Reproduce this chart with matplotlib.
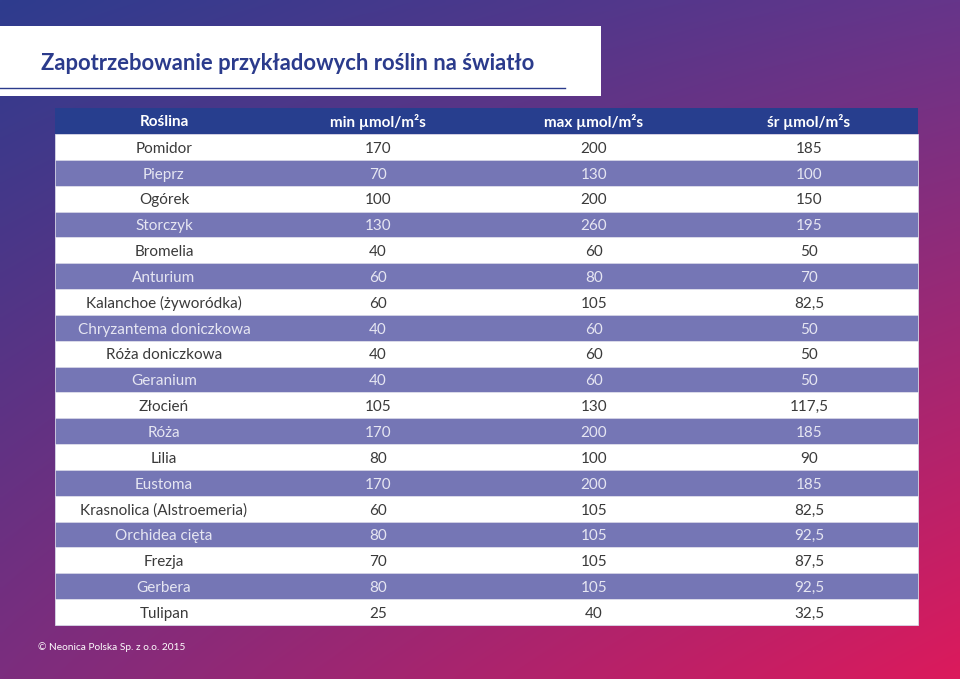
#! /usr/bin/env python3
#
# Table of light requirements for example plants, drawn on a gradient background.
#

import numpy as np
import matplotlib
matplotlib.use('agg')
import matplotlib.pyplot as plt
from matplotlib.patches import Rectangle
from matplotlib.colors import to_rgb

plt.rcParams['font.family'] = ['Lato', 'DejaVu Sans']

##########
## DATA ##
##########

title = "Zapotrzebowanie przykładowych roślin na światło"
footer = "© Neonica Polska Sp. z o.o. 2015"
header = ["Roślina", "min µmol/m²s", "max µmol/m²s", "śr µmol/m²s"]
plants = ["Pomidor", "Pieprz", "Ogórek", "Storczyk", "Bromelia", "Anturium",
          "Kalanchoe (żyworódka)", "Chryzantema doniczkowa", "Róża doniczkowa",
          "Geranium", "Złocień", "Róża", "Lilia", "Eustoma",
          "Krasnolica (Alstroemeria)", "Orchidea cięta", "Frezja", "Gerbera",
          "Tulipan"]
min_vals = ["170", "70", "100", "130", "40", "60", "60", "40", "40", "40",
            "105", "170", "80", "170", "60", "80", "70", "80", "25"]
max_vals = ["200", "130", "200", "260", "60", "80", "105", "60", "60", "60",
            "130", "200", "100", "200", "105", "105", "105", "105", "40"]
avg_vals = ["185", "100", "150", "195", "50", "70", "82,5", "50", "50", "50",
            "117,5", "185", "90", "185", "82,5", "92,5", "87,5", "92,5", "32,5"]

##############
## SETTINGS ##
##############

W, H = 960, 679
dpi = 100
col_x = [164, 378, 594, 809]          # column centres (px)
tab_x0, tab_x1 = 55, 918
head_y0, head_y1 = 108, 134
row_h = (625 - head_y1) / len(plants)

c_head = '#273e8e'
c_band = '#7576b5'
c_white_txt = '#3a3a3a'
c_band_txt = '#e6e6f2'
c_title = '#2b3b8c'

##############
## Plotting ##
##############

fig = plt.figure(figsize=(W / dpi, H / dpi), dpi=dpi)
ax = fig.add_axes([0, 0, 1, 1])
ax.set_xlim(0, W)
ax.set_ylim(H, 0)
ax.axis('off')

# Diagonal gradient background (bilinear between corner colours)
tl, tr = np.array(to_rgb('#2e3c8e')), np.array(to_rgb('#66358a'))
bl, br = np.array(to_rgb('#7c2d7e')), np.array(to_rgb('#dc1a5c'))
u = np.linspace(0, 1, 240)[None, :, None]
v = np.linspace(0, 1, 170)[:, None, None]
grad = (1 - v) * ((1 - u) * tl + u * tr) + v * ((1 - u) * bl + u * br)
ax.imshow(grad, extent=(0, W, H, 0), aspect='auto', interpolation='bilinear', zorder=0)

# Title box
ax.add_patch(Rectangle((0, 26), 601, 70, facecolor='white', edgecolor='none', zorder=1))
ax.text(41, 63, title, fontsize=15.85, fontweight='bold', color=c_title,
        va='center', ha='left', zorder=2)
ax.plot([0, 565], [88, 88], color=c_title, linewidth=1, zorder=2)

# Header
ax.add_patch(Rectangle((tab_x0, head_y0), tab_x1 - tab_x0, head_y1 - head_y0,
                       facecolor=c_head, edgecolor='none', zorder=1))
for x, h in zip(col_x, header):
    ax.text(x, (head_y0 + head_y1) / 2 + 1.5, h, fontsize=11, fontweight='bold',
            color='white', ha='center', va='center', zorder=2)

# Rows
for i, row in enumerate(zip(plants, min_vals, max_vals, avg_vals)):
    y0 = head_y1 + i * row_h
    banded = i % 2 == 1
    ax.add_patch(Rectangle((tab_x0, y0), tab_x1 - tab_x0, row_h,
                           facecolor=c_band if banded else 'white',
                           edgecolor='#d8d8e8', linewidth=0.6, zorder=1))
    for x, s in zip(col_x, row):
        ax.text(x, y0 + row_h / 2 + 1.8, s, fontsize=11,
                color=c_band_txt if banded else c_white_txt,
                ha='center', va='center', zorder=2)

# Footer
ax.text(38, 647, footer, fontsize=7.3, color='white',
        ha='left', va='center', zorder=2)

fig.savefig('out.png', dpi=dpi)

# EOF
